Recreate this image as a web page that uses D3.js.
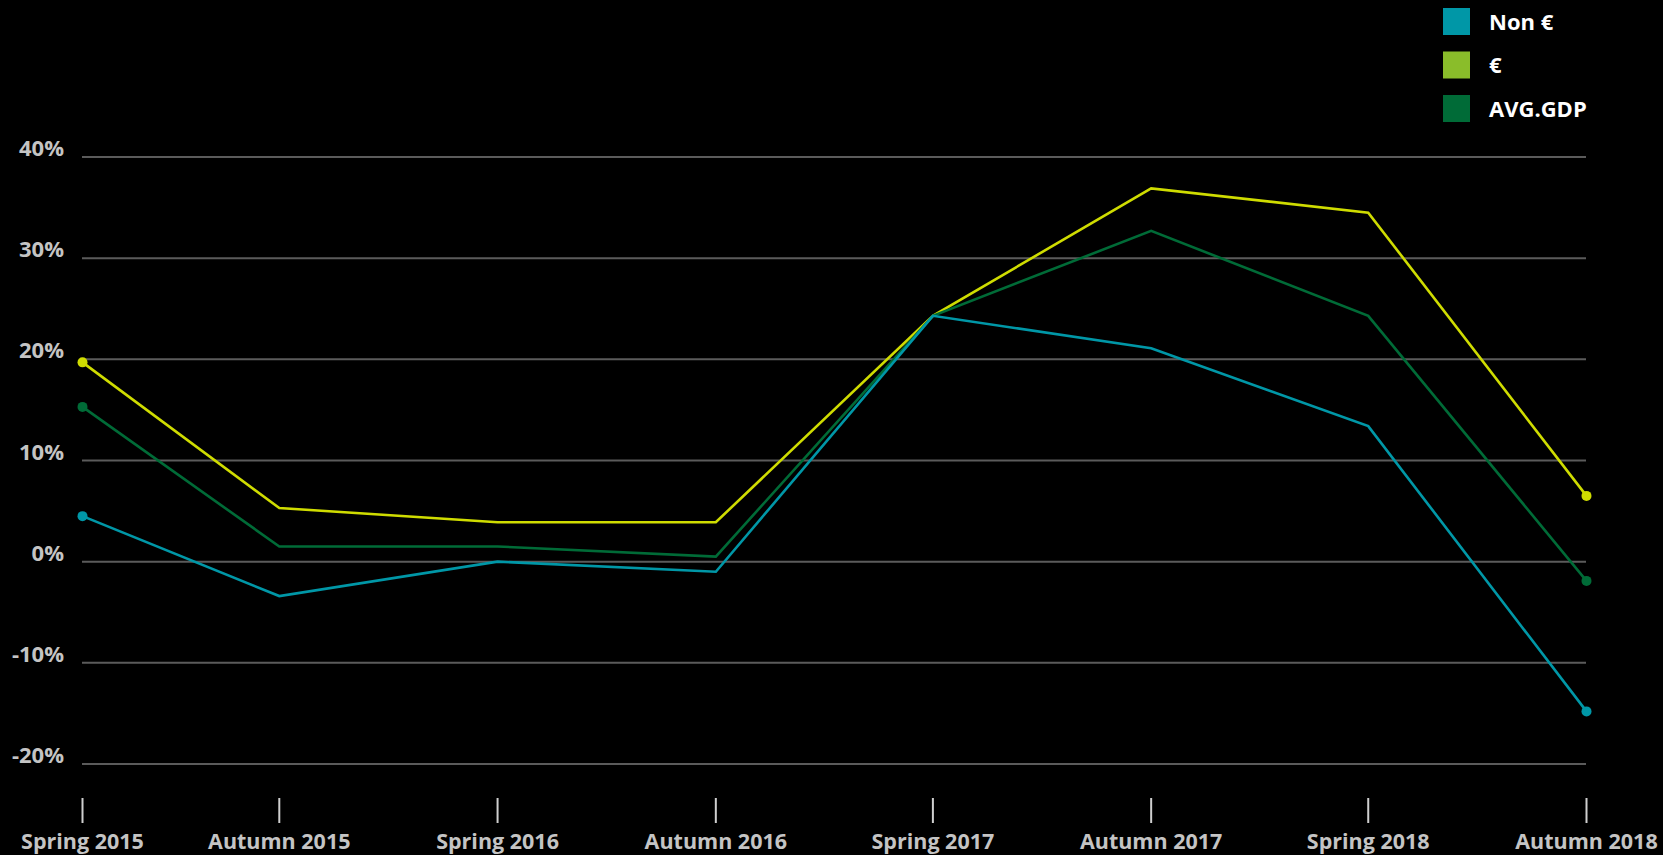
<!DOCTYPE html>
<html>
<head>
<meta charset="utf-8">
<script src="https://cdn.jsdelivr.net/npm/d3@7"></script>
<style>
  html, body { margin: 0; padding: 0; background: #000; overflow: hidden; }
  svg { display: block; }
  text { font-family: "Open Sans", "Noto Sans", sans-serif; font-weight: 700; }
</style>
</head>
<body>
<svg id="chart" width="1663" height="855"></svg>
<script>
// ---- data ----
const categories = ["Spring 2015", "Autumn 2015", "Spring 2016", "Autumn 2016", "Spring 2017", "Autumn 2017", "Spring 2018", "Autumn 2018"];
const surveyDates = ["2015-04-19", "2015-10-01", "2016-04-01", "2016-10-01", "2017-04-01", "2017-10-01", "2018-04-01", "2018-10-01"];
const nonEuro = [4.5, -3.4, 0.0, -1.0, 24.3, 21.1, 13.4, -14.8];
const euro = [19.7, 5.3, 3.9, 3.9, 24.3, 36.9, 34.5, 6.5];
const avgGdp = [15.3, 1.5, 1.5, 0.5, 24.3, 32.7, 24.3, -1.9];
const seriesNames = ["Non €", "€", "AVG.GDP"];
const yTicks = [-20, -10, 0, 10, 20, 30, 40];

const lineColors = { "Non €": "#0097a7", "€": "#cfdc00", "AVG.GDP": "#006b37" };
const swatchColors = { "Non €": "#0097a7", "€": "#8abd2a", "AVG.GDP": "#006b37" };

const series = [
  { name: "€", values: euro },
  { name: "AVG.GDP", values: avgGdp },
  { name: "Non €", values: nonEuro }
];

const svg = d3.select("#chart");
const parse = d3.timeParse("%Y-%m-%d");
const dates = surveyDates.map(parse);

const x = d3.scaleTime().domain(d3.extent(dates)).range([82.5, 1586.5]);
const y = d3.scaleLinear().domain([-20, 40]).range([764, 157]);

// grid
const grid = svg.append("g");
grid.selectAll("line").data(yTicks).join("line")
  .attr("x1", 82).attr("x2", 1586)
  .attr("y1", d => y(d)).attr("y2", d => y(d))
  .attr("stroke", "#5b5b5b").attr("stroke-width", 2);

// y labels
svg.append("g").selectAll("text").data(yTicks).join("text")
  .attr("x", 64).attr("y", d => y(d) - 1)
  .attr("text-anchor", "end")
  .attr("fill", "#c4c4c4")
  .attr("font-size", 22)
  .text(d => d + "%");

// x ticks
const xg = svg.append("g");
xg.selectAll("line").data(dates).join("line")
  .attr("x1", d => x(d)).attr("x2", d => x(d))
  .attr("y1", 798).attr("y2", 823)
  .attr("stroke", "#cfcfcf").attr("stroke-width", 2);
xg.selectAll("text").data(categories).join("text")
  .attr("x", (d, i) => x(dates[i]))
  .attr("y", 849)
  .attr("text-anchor", "middle")
  .attr("fill", "#c4c4c4")
  .attr("font-size", 21.5)
  .text(d => d);

// lines
const line = d3.line().x((d, i) => x(dates[i])).y(d => y(d));
svg.append("g").selectAll("path").data(series).join("path")
  .attr("d", s => line(s.values))
  .attr("fill", "none")
  .attr("stroke", s => lineColors[s.name])
  .attr("stroke-width", 2.6)
  .attr("stroke-linejoin", "miter");

// end points
const pts = [];
series.forEach(s => {
  [0, s.values.length - 1].forEach(i => pts.push({ name: s.name, i, v: s.values[i] }));
});
svg.append("g").selectAll("circle").data(pts).join("circle")
  .attr("cx", d => x(dates[d.i]))
  .attr("cy", d => y(d.v))
  .attr("r", 5)
  .attr("fill", d => lineColors[d.name]);

// legend
const lg = svg.append("g").attr("transform", "translate(1443,8)");
const li = lg.selectAll("g").data(seriesNames).join("g")
  .attr("transform", (d, i) => `translate(0,${i * 43.5})`);
li.append("rect").attr("width", 27).attr("height", 27).attr("fill", d => swatchColors[d]);
li.append("text").attr("x", 46).attr("y", 21.5).attr("fill", "#ffffff")
  .attr("font-size", 22).text(d => d);
</script>
</body>
</html>
